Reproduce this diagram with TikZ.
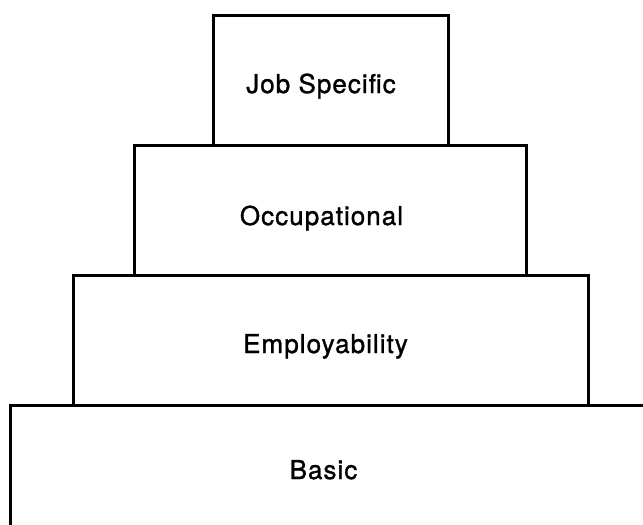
\documentclass[tikz,border=0pt]{standalone}
\usepackage{fontspec}
\setmainfont{TeX Gyre Heros}[LetterSpace=4.0,FakeBold=1.2]
\usepackage{tikz}
\newcommand{\tierfont}{\fontsize{26}{30}\selectfont}

\begin{document}
\begin{tikzpicture}[x=1pt,y=-1pt,
    tier/.style={draw,line width=3pt,inner sep=0,outer sep=0},
    lbl/.style={anchor=base,inner sep=0,font=\tierfont}]
      \useasboundingbox (0,0) rectangle (643,525);
      \node[tier,minimum width=235,minimum height=130] (job) at (330.5,80) {};
      \node[tier,minimum width=392,minimum height=130] (occ) at (330,210) {};
      \node[tier,minimum width=515,minimum height=130] (emp) at (330.5,340) {};
      \coordinate (bl) at (10,535);
      \coordinate (br) at (655,405);
      \draw[line width=3pt] (bl) |- (br);
      \node[lbl] (jobtxt) at (321,93) {Job Specific};
      \node[lbl] (occtxt) at (321.5,225) {Occupational};
      \node[lbl] (emptxt) at (325.5,353) {Employability};
      \node[lbl] (basictxt) at (323.5,479) {Basic};
    \end{tikzpicture}
\end{document}
